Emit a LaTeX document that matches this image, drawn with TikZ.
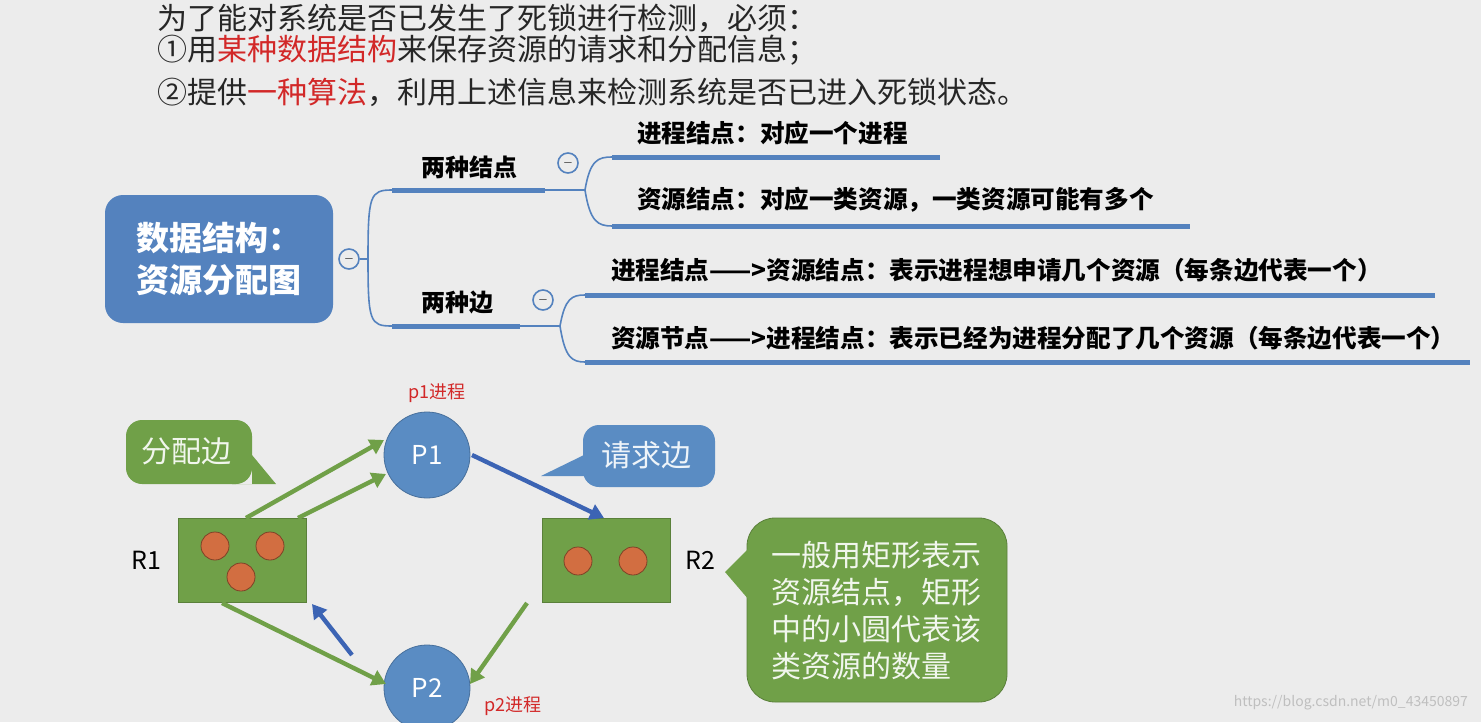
\documentclass[tikz,border=0pt]{standalone}
\usepackage{fontspec}
\setmainfont{Noto Sans CJK SC}
\usetikzlibrary{arrows.meta}
\definecolor{bg}{RGB}{236,236,236}
\definecolor{mblue}{RGB}{84,130,190}
\definecolor{lblue}{RGB}{90,140,195}
\definecolor{dblue}{RGB}{60,100,180}
\definecolor{gr}{RGB}{112,160,72}
\definecolor{org}{RGB}{210,110,65}
\definecolor{rd}{RGB}{210,40,40}
\tikzset{
 mm/.style={draw=mblue,line width=0.8pt},
 mmthick/.style={draw=mblue,line width=2.5pt},
 minus/.style={circle,draw=mblue,fill=bg,line width=0.8pt,minimum size=10pt,inner sep=0pt},
 ga/.style={draw=gr,line width=2.2pt,-{Triangle[length=7pt,width=8pt]}},
 ba/.style={draw=dblue,line width=2.2pt,-{Triangle[length=7pt,width=8pt]}},
 proc/.style={circle,fill=lblue,draw=lblue!80!black,minimum size=43pt,inner sep=0pt,text=white,font=\fontsize{13}{14}\selectfont},
 res/.style={rectangle,fill=gr,draw=gr!80!black,minimum width=64pt,minimum height=42pt,inner sep=0pt},
 dot/.style={circle,fill=org,draw=org!60!black,minimum size=14pt,inner sep=0pt},
 lab/.style={anchor=west,font=\bfseries\fontsize{12.3}{14}\selectfont},
 ctext/.style={text=white!90!gr,font=\fontsize{15}{18.5}\selectfont},
}
\begin{document}
\begin{tikzpicture}[x=0.5pt,y=-0.5pt]
\fill[bg] (0,0) rectangle (1481,722);
\clip (0,0) rectangle (1481,722);
\useasboundingbox (0,0) rectangle (1481,722);
% top text
\begin{scope}[every node/.style={anchor=west,font=\fontsize{15}{16}\selectfont,text=black!85}]
\node (t1) at (150,18) {为了能对系统是否已发生了死锁进行检测，必须：};
\node (t2) at (150,50) {①用\textcolor{rd}{某种数据结构}来保存资源的请求和分配信息；};
\node (t3) at (150,92) {②提供\textcolor{rd}{一种算法}，利用上述信息来检测系统是否已进入死锁状态。};
\end{scope}
% mind map
\node[fill=mblue,rounded corners=9pt,minimum width=114pt,minimum height=64pt,text=white,font=\bfseries\fontsize{16.5}{21}\selectfont,align=left] (root) at (219,259) {数据结构：\\资源分配图};
\node[minus] (m0) at (349,259) {\tiny$-$};
\draw[mm] (m0.east) -- (368,259);
\draw[mm] (368,259) .. controls (368,195) and (370,190) .. (392,190) -- (545,190);
\draw[mm] (368,259) .. controls (368,322) and (370,326) .. (392,326);
\draw[mmthick] (392,190) -- (545,190);
\draw[mmthick] (392,326) -- (520,326);
\node[lab,font=\bfseries\fontsize{12}{14}\selectfont] (n1) at (414,167) {两种结点};
\node[lab,font=\bfseries\fontsize{12}{14}\selectfont] (n2) at (414,302) {两种边};
\node[minus] (m1) at (568,163) {\tiny$-$};
\node[minus] (m2) at (543,300) {\tiny$-$};
\draw[mm] (545,190) -- (585,190);
\draw[mm] (585,190) .. controls (590,160) and (598,157) .. (612,157);
\draw[mm] (585,190) .. controls (590,222) and (598,226) .. (612,226);
\draw[mmthick] (612,157) -- (940,157);
\draw[mmthick] (612,226) -- (1190,226);
\draw[mm] (520,326) -- (560,326);
\draw[mm] (560,326) .. controls (565,298) and (572,295) .. (585,295);
\draw[mm] (560,326) .. controls (565,358) and (572,362) .. (585,362);
\draw[mmthick] (585,295) -- (1435,295);
\draw[mmthick] (585,362) -- (1470,362);
\node[lab] (a1) at (630,133) {进程结点：对应一个进程};
\node[lab] (a2) at (630,200) {资源结点：对应一类资源，一类资源可能有多个};
\node[lab] (b1) at (604,270) {进程结点——>资源结点：表示进程想申请几个资源（每条边代表一个）};
\node[lab] (b2) at (604,338) {资源节点——>进程结点：表示已经为进程分配了几个资源（每条边代表一个）};
% graph
\node[proc] (P1) at (427,455) {P1};
\node[proc] (P2) at (427,688) {P2};
\node[res] (R1) at (242,560) {};
\node[res] (R2) at (606,560) {};
\node[dot] at (215,546) {}; \node[dot] at (270,546) {}; \node[dot] at (241,577) {};
\node[dot] at (578,561) {}; \node[dot] at (633,561) {};
\node[font=\fontsize{12.5}{13}\selectfont] (l1) at (146,560) {R1};
\node[font=\fontsize{12.5}{13}\selectfont] (l2) at (700,560) {R2};
\node[text=rd,font=\fontsize{9}{10}\selectfont] (p1l) at (437,393) {p1进程};
\node[text=rd,font=\fontsize{9}{10}\selectfont] (p2l) at (513,706) {p2进程};
\coordinate (r1a) at (246,518); \coordinate (r1b) at (298,518); \coordinate (r1c) at (222,603);
\coordinate (r2b) at (527,603); \coordinate (r2t) at (604,518); \coordinate (r1r) at (312,604);
\draw[ga] (r1a) -- (384,440);
\draw[ga] (r1b) -- (386,474);
\draw[ga] (r1c) -- (386,684);
\draw[ga] (r2b) -- (470,684);
\draw[ba] (472,455) -- (r2t);
\draw[ba] (352,655) -- (r1r);
% callouts
\fill[gr,rounded corners=8pt] (126,420) rectangle (252,484);
\fill[gr] (232,484) -- (276,484) -- (252,455) -- (252,484) -- cycle;
\node[ctext] (c1) at (186,451) {分配边};
\fill[lblue,rounded corners=8pt] (583,425) rectangle (715,487);
\fill[lblue] (584,455) -- (541,476) -- (584,476) -- cycle;
\node[ctext,text=white!90!lblue] (c2) at (646,455) {请求边};
\fill[gr,draw=gr!80!black,rounded corners=14pt] (747,518) rectangle (1007,702);
\fill[gr] (749,548) -- (725,572) -- (749,600) -- cycle;
\node[ctext,anchor=west,align=left] (c3) at (764,611) {一般用矩形表示\\资源结点，矩形\\中的小圆代表该\\类资源的数量};
\node[anchor=east,text=black!25,font=\fontsize{7}{8}\selectfont] (wm) at (1475,703) {https://blog.csdn.net/m0\_43450897};
\end{tikzpicture}
\end{document}
